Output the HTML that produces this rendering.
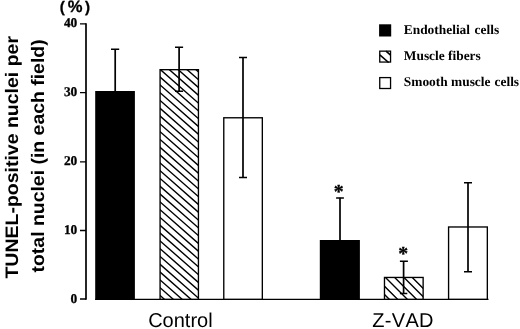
<!DOCTYPE html>
<html><head><meta charset="utf-8">
<style>
html,body{margin:0;padding:0;background:#fff;}
svg{display:block;will-change:transform;}
text{font-family:"Liberation Sans",sans-serif;fill:#000;text-rendering:geometricPrecision;}
.s text,text.s{font-family:"Liberation Serif",serif;font-weight:bold;}
</style></head><body>
<svg width="520" height="329" viewBox="0 0 520 329">
<defs>
<clipPath id="c1"><rect x="160.08" y="69.68" width="38.35" height="229.62"/></clipPath>
<clipPath id="c2"><rect x="384.48" y="277.45" width="38.65" height="21.85"/></clipPath>
</defs>
<rect width="520" height="329" fill="#fff"/>
<!-- axes -->
<g stroke="#000" fill="none">
<path d="M86 23.2 V299.7" stroke-width="1.7"/>
<path d="M95.2 299.3 H488.5 M80 299 H86" stroke-width="1.3"/>
<path d="M80 23.85 H86 M80 92.6 H86 M80 161.8 H86 M80 230.5 H86" stroke-width="1.3"/>
</g>
<!-- bars -->
<rect x="95.2" y="91" width="39.7" height="208.95" fill="#000"/>
<rect x="319.8" y="240" width="40.1" height="59.95" fill="#000"/>
<g stroke="#000" stroke-width="1.35" fill="#fff">
<rect x="160.08" y="69.68" width="38.35" height="229.62"/>
<path clip-path="url(#c1)" stroke-width="1.4" d="M154.5 25.40L204.5 69.40M154.5 33.20L204.5 77.20M154.5 41.00L204.5 85.00M154.5 48.80L204.5 92.80M154.5 56.60L204.5 100.60M154.5 64.40L204.5 108.40M154.5 72.20L204.5 116.20M154.5 80.00L204.5 124.00M154.5 87.80L204.5 131.80M154.5 95.60L204.5 139.60M154.5 103.40L204.5 147.40M154.5 111.20L204.5 155.20M154.5 119.00L204.5 163.00M154.5 126.80L204.5 170.80M154.5 134.60L204.5 178.60M154.5 142.40L204.5 186.40M154.5 150.20L204.5 194.20M154.5 158.00L204.5 202.00M154.5 165.80L204.5 209.80M154.5 173.60L204.5 217.60M154.5 181.40L204.5 225.40M154.5 189.20L204.5 233.20M154.5 197.00L204.5 241.00M154.5 204.80L204.5 248.80M154.5 212.60L204.5 256.60M154.5 220.40L204.5 264.40M154.5 228.20L204.5 272.20M154.5 236.00L204.5 280.00M154.5 243.80L204.5 287.80M154.5 251.60L204.5 295.60M154.5 259.40L204.5 303.40M154.5 267.20L204.5 311.20M154.5 275.00L204.5 319.00M154.5 282.80L204.5 326.80M154.5 290.60L204.5 334.60M154.5 298.40L204.5 342.40M154.5 306.20L204.5 350.20M154.5 314.00L204.5 358.00"/>
<rect x="223.78" y="117.78" width="38.55" height="181.52"/>
<rect x="384.48" y="277.45" width="38.65" height="21.85"/>
<path clip-path="url(#c2)" stroke-width="1.4" d="M376.0 268.00L431.0 323.00M385.2 268.00L440.2 323.00M394.5 268.00L449.5 323.00M402.8 268.00L457.8 323.00M374.2 275.90L429.2 330.90M374.2 284.20L429.2 339.20"/>
<rect x="448.58" y="226.98" width="38.75" height="72.32"/>
</g>
<!-- error bars -->
<g stroke="#000" fill="none">
<path stroke-width="1.7" d="M115.2 49 V91.5 M179.1 47 V91.3 M243 57.4 V177.4 M340 197.7 V240.5 M403.6 261 V293.4 M468 182.5 V271.8"/>
<path stroke-width="1.5" d="M111 49.2 H119.2 M175 47.2 H183.1 M175 91.3 H183.1 M239 57.6 H247 M239 177.4 H247 M336.1 197.9 H343.9 M399.9 261.2 H407.9 M399.9 293.4 H407.3 M464 182.7 H472 M464 271.8 H472"/>
</g>
<!-- labels -->
<g font-size="15.2" font-weight="bold" stroke="#000" stroke-width="0.3"><text x="59.8" y="12.3">(</text><text x="67.8" y="12.3" font-size="16.6">%</text><text x="84.9" y="12.3">)</text></g>
<g class="s" font-size="13.4" text-anchor="end" stroke="#000" stroke-width="0.3">
<text x="77.3" y="27.1">40</text>
<text x="77.3" y="96.1">30</text>
<text x="77.3" y="165.3">20</text>
<text x="77.3" y="234">10</text>
<text x="77.3" y="302.9">0</text>
</g>
<text x="180.4" y="327.3" font-size="20" text-anchor="middle">Control</text>
<text x="403.1" y="327.3" font-size="20" text-anchor="middle" style="font-kerning:none" letter-spacing="0.3">Z-VAD</text>
<g font-size="18.1" font-weight="bold" text-anchor="middle">
<text transform="translate(17.9 157.3) rotate(-90) scale(1.077 1)">TUNEL-positive nuclei per</text>
<text transform="translate(43.9 155.9) rotate(-90) scale(1.0735 1)">total nuclei (in each field)</text>
</g>
<!-- legend -->
<rect x="379.1" y="24.3" width="12.1" height="12.2" fill="#000"/>
<rect x="379.75" y="51.15" width="10.8" height="10.9" fill="#fff" stroke="#000" stroke-width="1.3"/>
<path d="M379.8 54.9 L388.6 62.5 M386 51.2 L390.6 55.2" stroke="#000" stroke-width="1.6"/>
<rect x="379.75" y="77.6" width="10.8" height="10.9" fill="#fff" stroke="#000" stroke-width="1.3"/>
<g class="s" font-size="13.4">
<text x="403.8" y="33.6">Endothelial<tspan dx="1.2"> cells</tspan></text>
<text x="403.8" y="60">Muscle fibers</text>
<text x="403.8" y="86.2">Smooth muscle<tspan dx="0.7"> cells</tspan></text>
</g>
<g class="s" font-size="19.8" text-anchor="middle" stroke="#000" stroke-width="0.35">
<text x="338.8" y="197.8">*</text>
<text x="403.2" y="259.8">*</text>
</g>
</svg>
</body></html>
